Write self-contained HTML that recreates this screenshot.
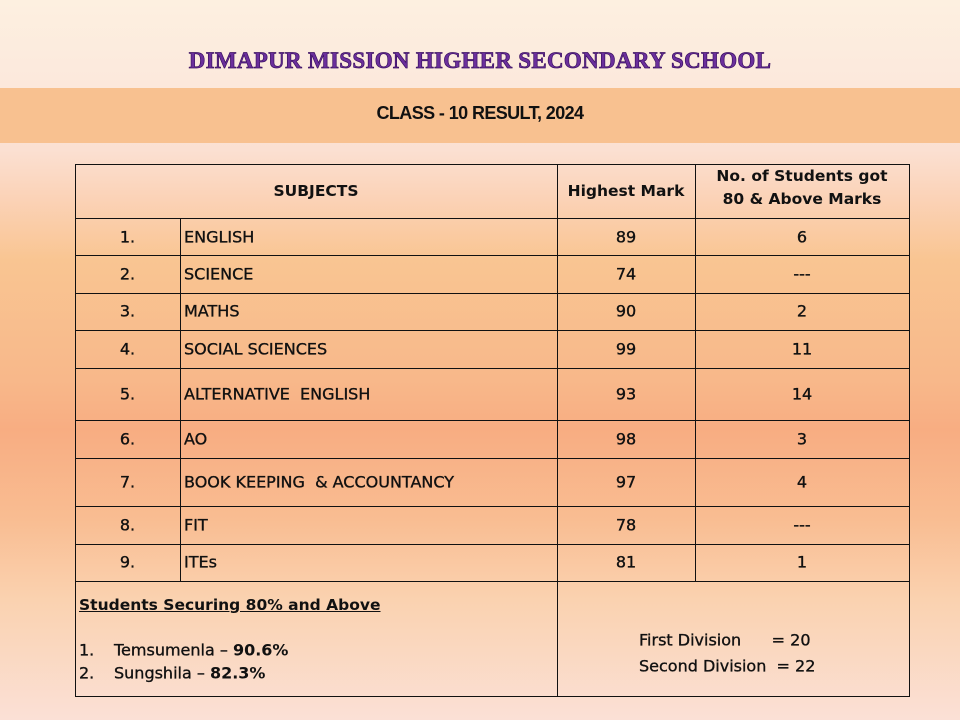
<!DOCTYPE html>
<html><head><meta charset="utf-8"><style>
body{margin:0;width:960px;height:720px;overflow:hidden;position:relative;font-family:"DejaVu Sans","Liberation Sans",sans-serif;
background:linear-gradient(to bottom,#fdf0e0 0px,#fce8dc 88px,#fbe0d2 150px,#fbd2b6 200px,#f9c592 260px,#f8b88a 380px,#f8ad82 430px,#f9bd92 520px,#fad2b0 600px,#fbe0d6 720px);}
.t{position:absolute;}
.title{left:0;width:960px;top:48px;text-align:center;font-family:"Liberation Serif",serif;font-weight:bold;font-size:23px;color:#6b2f9c;-webkit-text-stroke:0.7px #3a1060;letter-spacing:0.3px;}
.band{position:absolute;left:0;top:88px;width:960px;height:55px;background:#f8c190;}
.sub{left:0;width:960px;top:103px;text-align:center;font-family:"Liberation Sans",sans-serif;font-weight:bold;font-size:18px;letter-spacing:-0.6px;color:#111;}
.h{position:absolute;background:#111;height:1px;}
.v{position:absolute;background:#111;width:1px;}
.c{position:absolute;font-size:16px;color:#111;text-align:center;transform:translateY(-50%);-webkit-text-stroke:0.35px #111;}
.l{position:absolute;font-size:16px;color:#111;transform:translateY(-50%);left:184px;-webkit-text-stroke:0.35px #111;}
.b{font-weight:bold;-webkit-text-stroke:0;font-size:15.5px;}
</style></head><body>
<div class="t title">DIMAPUR MISSION HIGHER SECONDARY SCHOOL</div>
<div class="band"></div>
<div class="t sub">CLASS - 10 RESULT, 2024</div>

<div class="h" style="left:75px;width:835px;top:164px"></div>
<div class="h" style="left:75px;width:835px;top:218px"></div>
<div class="h" style="left:75px;width:835px;top:255px"></div>
<div class="h" style="left:75px;width:835px;top:293px"></div>
<div class="h" style="left:75px;width:835px;top:330px"></div>
<div class="h" style="left:75px;width:835px;top:368px"></div>
<div class="h" style="left:75px;width:835px;top:420px"></div>
<div class="h" style="left:75px;width:835px;top:458px"></div>
<div class="h" style="left:75px;width:835px;top:506px"></div>
<div class="h" style="left:75px;width:835px;top:544px"></div>
<div class="h" style="left:75px;width:835px;top:581px"></div>
<div class="h" style="left:75px;width:835px;top:696px"></div>
<div class="v" style="left:75px;top:164px;height:533px"></div>
<div class="v" style="left:180px;top:218px;height:364px"></div>
<div class="v" style="left:557px;top:164px;height:533px"></div>
<div class="v" style="left:695px;top:164px;height:418px"></div>
<div class="v" style="left:909px;top:164px;height:533px"></div>

<div class="c b" style="left:75px;width:482px;top:191px">SUBJECTS</div>
<div class="c b" style="left:557px;width:138px;top:191px">Highest Mark</div>
<div class="c b" style="left:695px;width:214px;top:188px;line-height:23px">No. of Students got<br>80 &amp; Above Marks</div>

<div class="c" style="left:75px;width:105px;top:237px">1.</div><div class="l" style="top:237px">ENGLISH</div><div class="c" style="left:557px;width:138px;top:237px">89</div><div class="c" style="left:695px;width:214px;top:237px">6</div>
<div class="c" style="left:75px;width:105px;top:274px">2.</div><div class="l" style="top:274px">SCIENCE</div><div class="c" style="left:557px;width:138px;top:274px">74</div><div class="c" style="left:695px;width:214px;top:274px">---</div>
<div class="c" style="left:75px;width:105px;top:311px">3.</div><div class="l" style="top:311px">MATHS</div><div class="c" style="left:557px;width:138px;top:311px">90</div><div class="c" style="left:695px;width:214px;top:311px">2</div>
<div class="c" style="left:75px;width:105px;top:349px">4.</div><div class="l" style="top:349px">SOCIAL SCIENCES</div><div class="c" style="left:557px;width:138px;top:349px">99</div><div class="c" style="left:695px;width:214px;top:349px">11</div>
<div class="c" style="left:75px;width:105px;top:394px">5.</div><div class="l" style="top:394px">ALTERNATIVE&nbsp; ENGLISH</div><div class="c" style="left:557px;width:138px;top:394px">93</div><div class="c" style="left:695px;width:214px;top:394px">14</div>
<div class="c" style="left:75px;width:105px;top:439px">6.</div><div class="l" style="top:439px">AO</div><div class="c" style="left:557px;width:138px;top:439px">98</div><div class="c" style="left:695px;width:214px;top:439px">3</div>
<div class="c" style="left:75px;width:105px;top:482px">7.</div><div class="l" style="top:482px">BOOK KEEPING &nbsp;&amp; ACCOUNTANCY</div><div class="c" style="left:557px;width:138px;top:482px">97</div><div class="c" style="left:695px;width:214px;top:482px">4</div>
<div class="c" style="left:75px;width:105px;top:525px">8.</div><div class="l" style="top:525px">FIT</div><div class="c" style="left:557px;width:138px;top:525px">78</div><div class="c" style="left:695px;width:214px;top:525px">---</div>
<div class="c" style="left:75px;width:105px;top:562px">9.</div><div class="l" style="top:562px">ITEs</div><div class="c" style="left:557px;width:138px;top:562px">81</div><div class="c" style="left:695px;width:214px;top:562px">1</div>

<div class="l b" style="left:79px;top:605px;text-decoration:underline">Students Securing 80% and Above</div>
<div class="l" style="left:79px;top:650px">1.</div><div class="l" style="left:114px;top:650px">Temsumenla – <b style="-webkit-text-stroke:0">90.6%</b></div>
<div class="l" style="left:79px;top:673px">2.</div><div class="l" style="left:114px;top:673px">Sungshila – <b style="-webkit-text-stroke:0">82.3%</b></div>

<div class="l" style="left:639px;top:640px">First Division &nbsp;&nbsp;&nbsp;&nbsp;&nbsp;= 20</div>
<div class="l" style="left:639px;top:666px">Second Division &nbsp;= 22</div>
</body></html>
